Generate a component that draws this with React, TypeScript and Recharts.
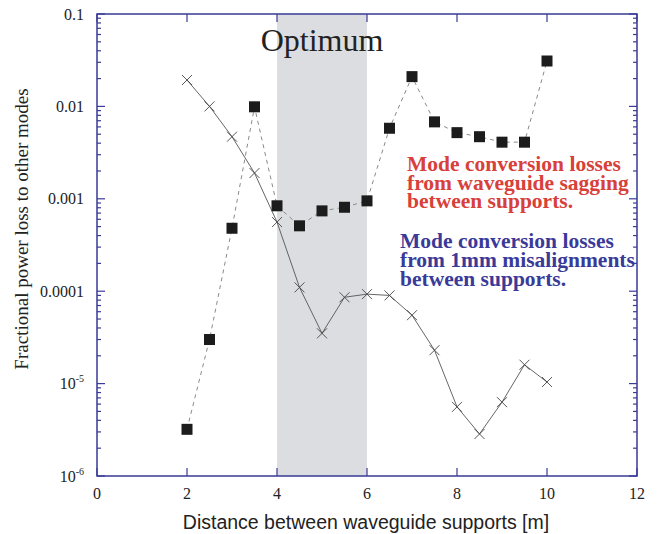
import React from 'react'
import { LineChart, Line, XAxis, YAxis, ReferenceArea } from 'recharts'

const distances = [2, 2.5, 3, 3.5, 4, 4.5, 5, 5.5, 6, 6.5, 7, 7.5, 8, 8.5, 9, 9.5, 10]
const sagging = [
  3.2e-6, 3.0e-5, 4.8e-4, 0.0099, 8.4e-4, 5.1e-4, 7.4e-4, 8.1e-4, 9.5e-4, 0.0058, 0.021, 0.0068,
  0.0052, 0.0047, 0.0041, 0.0041, 0.031,
]
const misalign = [
  0.0193, 0.01, 0.0047, 0.0019, 5.6e-4, 1.1e-4, 3.5e-5, 8.6e-5, 9.3e-5, 9.0e-5, 5.5e-5, 2.3e-5,
  5.6e-6, 2.85e-6, 6.3e-6, 1.6e-5, 1.04e-5,
]
const xTicks = [0, 2, 4, 6, 8, 10, 12]
const decades = [-6, -5, -4, -3, -2]
const yTicks = [...decades.flatMap((d) => [1, 2, 3, 4, 5, 6, 7, 8, 9].map((k) => k * Math.pow(10, d))), 0.1]
const majorLabels: Record<string, [string, string?]> = {
  '-1': ['0.1'],
  '-2': ['0.01'],
  '-3': ['0.001'],
  '-4': ['0.0001'],
  '-5': ['10', '-5'],
  '-6': ['10', '-6'],
}
const sagText = ['Mode conversion losses', 'from waveguide sagging', 'between supports.']
const misText = ['Mode conversion losses', 'from 1mm misalignments', 'between supports.']

const data = distances.map((x, i) => ({ x, sag: sagging[i], mis: misalign[i] }))

const W = 664
const H = 534
const LEFT = 97
const RIGHT = 637
const TOP = 14
const BOTTOM = 476
const AXIS = '#3a3a98'
const SERIF = '"Liberation Serif", "DejaVu Serif", serif'

function XTick(props: any) {
  const { x, payload } = props
  return (
    <g>
      <line x1={x} x2={x} y1={BOTTOM} y2={BOTTOM - 8} stroke={AXIS} strokeWidth={1.2} />
      <line x1={x} x2={x} y1={TOP} y2={TOP + 8} stroke={AXIS} strokeWidth={1.2} />
      <text x={x} y={BOTTOM + 23} textAnchor="middle" fontFamily={SERIF} fontSize={16} fill="#222">
        {payload.value}
      </text>
    </g>
  )
}

function YTick(props: any) {
  const { y, payload } = props
  const lg = Math.log10(payload.value)
  const major = Math.abs(lg - Math.round(lg)) < 1e-6
  const len = major ? 8 : 4
  const lab = major ? majorLabels[String(Math.round(lg))] : null
  return (
    <g>
      <line x1={LEFT} x2={LEFT + len} y1={y} y2={y} stroke={AXIS} strokeWidth={1.2} />
      <line x1={RIGHT} x2={RIGHT - len} y1={y} y2={y} stroke={AXIS} strokeWidth={1.2} />
      {lab && (
        <text x={LEFT - 13} y={y + 5.5} textAnchor="end" fontFamily={SERIF} fontSize={16} fill="#222">
          {lab[1] ? (
            <>
              {lab[0]}
              <tspan dy={-7} fontSize={10}>
                {lab[1]}
              </tspan>
            </>
          ) : (
            lab[0]
          )}
        </text>
      )}
    </g>
  )
}

function OptimumLabel(props: any) {
  const vb = props.viewBox || {}
  return (
    <text
      x={vb.x + vb.width / 2}
      y={vb.y + 37}
      textAnchor="middle"
      fontFamily={SERIF}
      fontSize={32}
      fill="#222"
    >
      Optimum
    </text>
  )
}

function Square(props: any) {
  const { cx, cy } = props
  if (cx == null || cy == null) return null
  return <rect x={cx - 5.5} y={cy - 5.5} width={11} height={11} fill="#1c1c1c" />
}

function Cross(props: any) {
  const { cx, cy } = props
  if (cx == null || cy == null) return null
  const s = 5
  return (
    <g stroke="#444" strokeWidth={0.9}>
      <line x1={cx - s} y1={cy - s} x2={cx + s} y2={cy + s} />
      <line x1={cx - s} y1={cy + s} x2={cx + s} y2={cy - s} />
    </g>
  )
}

// one text element per note block, lines as tspans
function Note({ lines, x, y, gap, color }: { lines: string[]; x: number; y: number; gap: number; color: string }) {
  return (
    <text x={x} y={y} fontFamily={SERIF} fontWeight="bold" fontSize={21.5} fill={color}>
      {lines.map((t, i) => (
        <tspan key={i} x={x} dy={i === 0 ? 0 : gap}>
          {t}
        </tspan>
      ))}
    </text>
  )
}

export default function App() {
  return (
    <div style={{ position: 'fixed', left: 0, top: 0, background: '#fff' }}>
      <LineChart
        width={W}
        height={H}
        data={data}
        margin={{ top: TOP, right: W - RIGHT, left: LEFT - 60, bottom: H - BOTTOM - 30 }}
      >
        <XAxis
          type="number"
          dataKey="x"
          domain={[0, 12]}
          ticks={xTicks}
          interval={0}
          tick={<XTick />}
          tickLine={false}
          axisLine={false}
          height={30}
        />
        <YAxis
          scale="log"
          domain={[1e-6, 0.1]}
          allowDataOverflow
          ticks={yTicks}
          interval={0}
          tick={<YTick />}
          tickLine={false}
          axisLine={false}
          width={60}
        />
        <ReferenceArea
          x1={4}
          x2={6}
          y1={1e-6}
          y2={0.1}
          fill="#dcdde0"
          fillOpacity={1}
          stroke="none"
          label={<OptimumLabel />}
        />
        <ReferenceArea
          x1={0}
          x2={12}
          y1={1e-6}
          y2={0.1}
          fill="none"
          fillOpacity={0}
          stroke={AXIS}
          strokeWidth={1.5}
        />
        <Line
          dataKey="mis"
          stroke="#555"
          strokeWidth={0.9}
          dot={<Cross />}
          isAnimationActive={false}
        />
        <Line
          dataKey="sag"
          stroke="#8a8a8a"
          strokeWidth={1}
          strokeDasharray="4 4"
          dot={<Square />}
          isAnimationActive={false}
        />
        <Note lines={sagText} x={407} y={171} gap={18.5} color="#d8403a" />
        <Note lines={misText} x={400} y={248} gap={19} color="#3a3a98" />
        <text
          x={21}
          y={229}
          transform="rotate(-90 21 229)"
          textAnchor="middle"
          dominantBaseline="central"
          fontFamily={SERIF}
          fontSize={19}
          fill="#222"
        >
          Fractional power loss to other modes
        </text>
        <text
          x={366}
          y={529}
          textAnchor="middle"
          fontFamily='"Liberation Sans", Arial, sans-serif'
          fontSize={19.5}
          fill="#222"
        >
          Distance between waveguide supports [m]
        </text>
      </LineChart>
    </div>
  )
}
